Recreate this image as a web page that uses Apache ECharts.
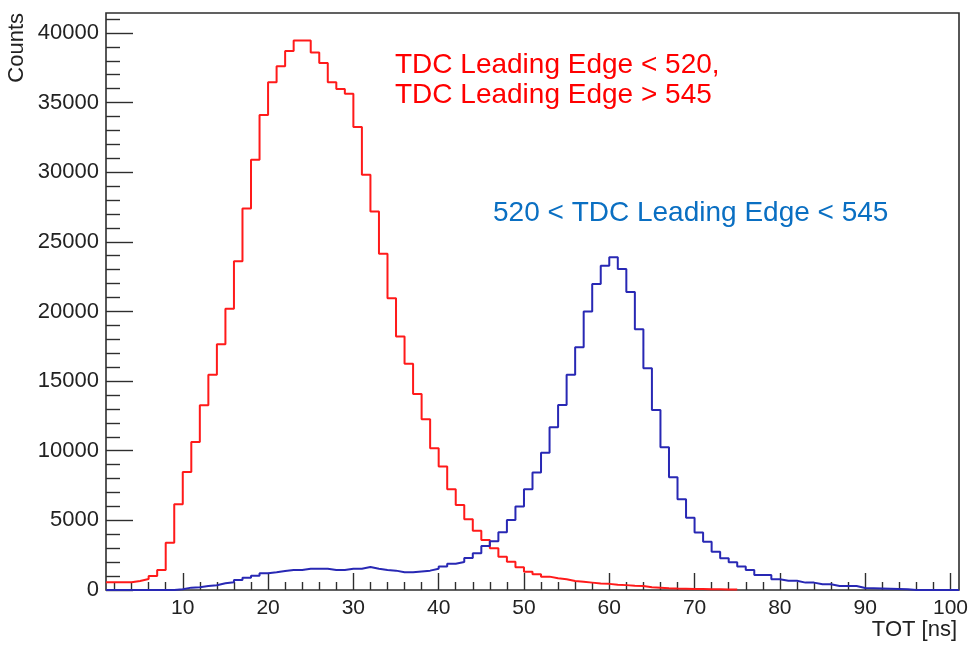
<!DOCTYPE html>
<html><head><meta charset="utf-8">
<script src="https://cdn.jsdelivr.net/npm/echarts@6/dist/echarts.min.js"></script>
<style>html,body{margin:0;padding:0;background:#fff}#c{width:973px;height:645px}</style>
</head><body><div id="c"></div>
<script>
// Histogram binning: 100 bins of width 1 ns, from 1 to 101
const binStart = 1;
const binWidth = 1;
const xMin = 1, xMax = 101;
const yMin = 0, yMax = 41430;

// Counts per bin (bin k covers [k, k+1])
const redCounts = [
  550,550,550,650,790,1000,1440,3400,6150,8480,
  10630,13270,15450,17650,20190,23600,27390,30890,34100,36450,
  37600,38700,39460,39460,38600,37840,36450,35970,35630,33240,
  29810,27180,24140,20950,18200,16240,14080,12260,10180,8860,
  7230,6110,5080,4260,3590,3000,2390,2030,1630,1310,
  1130,960,840,770,650,600,530,460,440,370,
  350,300,280,200,160,120,100,90,80,70,
  60,50,40,30,0,0,0,0,0,0,
  0,0,0,0,0,0,0,0,0,0,
  0,0,0,0,0,0,0,0,0,0
];
const blueCounts = [
  0,0,0,0,0,0,0,0,50,170,
  200,280,340,480,560,720,880,1030,1200,1270,
  1360,1440,1440,1530,1530,1530,1440,1440,1530,1530,
  1650,1530,1440,1390,1270,1270,1330,1390,1530,1680,
  1890,2010,2300,2640,3160,3500,4150,5030,5990,7230,
  8430,9860,11690,13290,15450,17430,19990,21980,23280,23900,
  23040,21390,18730,15930,12930,10250,8100,6520,5190,4130,
  3470,2750,2280,1990,1680,1440,1080,1080,770,670,
  670,530,530,410,410,290,290,290,150,130,
  110,90,70,50,0,0,0,0,0,0
];

const xMajorTicks = [10,20,30,40,50,60,70,80,90,100];
const xMinorTicks = [2,4,6,8,12,14,16,18,22,24,26,28,32,34,36,38,42,44,46,48,52,54,56,58,62,64,66,68,72,74,76,78,82,84,86,88,92,94,96,98];
const yMajorTicks = [0,5000,10000,15000,20000,25000,30000,35000,40000];
const yMinorTicks = [1000,2000,3000,4000,6000,7000,8000,9000,11000,12000,13000,14000,16000,17000,18000,19000,21000,22000,23000,24000,26000,27000,28000,29000,31000,32000,33000,34000,36000,37000,38000,39000,41000];

const redLabel1 = 'TDC Leading Edge < 520,';
const redLabel2 = 'TDC Leading Edge > 545';
const blueLabel = '520 < TDC Leading Edge < 545';
const xTitle = 'TOT [ns]';
const yTitle = 'Counts';

function histData(counts, trim) {
  let last = counts.length - 1;
  if (trim) { while (last > 0 && counts[last] === 0) last--; }
  const pts = [];
  for (let i = 0; i <= last; i++) pts.push([binStart + i * binWidth, counts[i]]);
  pts.push([binStart + (last + 1) * binWidth, counts[last]]);
  return pts;
}

const FONT = '"Liberation Sans", Arial, Helvetica, sans-serif';
const AX = '#2e2e2e';
const plain = v => String(Math.round(v));

const chart = echarts.init(document.getElementById('c'), null, {renderer: 'canvas'});
chart.setOption({
  animation: false,
  backgroundColor: '#fff',
  grid: {left: 106, right: 14, top: 13, bottom: 55, show: true, borderColor: AX, borderWidth: 1.6, backgroundColor: 'transparent'},
  xAxis: [
    {type: 'value', min: xMin, max: xMax, position: 'bottom', z: 1,
     axisLine: {show: false}, splitLine: {show: false},
     axisTick: {show: true, inside: true, length: 17, customValues: xMajorTicks, lineStyle: {color: AX, width: 1.4}},
     axisLabel: {show: true, customValues: xMajorTicks, formatter: plain, margin: 8, color: '#222', fontSize: 21, fontFamily: FONT}},
    {type: 'value', min: xMin, max: xMax, position: 'bottom', z: 1,
     axisLine: {show: false}, splitLine: {show: false},
     axisTick: {show: true, inside: true, length: 8, customValues: xMinorTicks, lineStyle: {color: AX, width: 1.4}},
     axisLabel: {show: false}}
  ],
  yAxis: [
    {type: 'value', min: yMin, max: yMax, position: 'left',
     axisLine: {show: false}, splitLine: {show: false},
     axisTick: {show: true, inside: true, length: 27, customValues: yMajorTicks, lineStyle: {color: AX, width: 1.4}},
     axisLabel: {show: true, customValues: yMajorTicks, formatter: plain, margin: 7, color: '#222', fontSize: 22, fontFamily: FONT}},
    {type: 'value', min: yMin, max: yMax, position: 'left', offset: 0,
     axisLine: {show: false}, splitLine: {show: false},
     axisTick: {show: true, inside: true, length: 14, customValues: yMinorTicks, lineStyle: {color: AX, width: 1.4}},
     axisLabel: {show: false}}
  ],
  series: [
    {type: 'line', name: 'red', step: 'end', xAxisIndex: 0, yAxisIndex: 0, symbol: 'none',
     data: histData(redCounts, true), lineStyle: {color: '#ff1a1a', width: 2}, z: 3},
    {type: 'line', name: 'blue', step: 'end', xAxisIndex: 0, yAxisIndex: 0, symbol: 'none',
     data: histData(blueCounts, false), lineStyle: {color: '#2828b4', width: 2}, z: 4}
  ],
  graphic: [
    {type: 'text', x: 395, y: 65, style: {text: redLabel1, fill: '#ff0000', font: '28px ' + FONT, textAlign: 'left', textVerticalAlign: 'middle'}},
    {type: 'text', x: 395, y: 95, style: {text: redLabel2, fill: '#ff0000', font: '28px ' + FONT, textAlign: 'left', textVerticalAlign: 'middle'}},
    {type: 'text', x: 493, y: 213, style: {text: blueLabel, fill: '#0a6fc2', font: '28px ' + FONT, textAlign: 'left', textVerticalAlign: 'middle'}},
    {type: 'text', x: 957, y: 630, style: {text: xTitle, fill: '#222', font: '22px ' + FONT, textAlign: 'right', textVerticalAlign: 'middle'}},
    {type: 'text', x: 17, y: 13, rotation: Math.PI / 2, style: {text: yTitle, fill: '#222', font: '22px ' + FONT, textAlign: 'right', textVerticalAlign: 'middle'}}
  ]
});
</script></body></html>
